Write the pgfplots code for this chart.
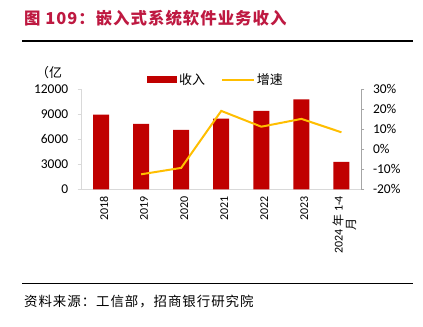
\documentclass[border=0pt]{standalone}
\usepackage{pgfplots}
\pgfplotsset{compat=1.18}
\usepackage{fontspec}
\setmainfont{Carlito}
\newfontfamily\cjk{Noto Sans CJK SC}
\newfontfamily\cjktitle[LetterSpace=6]{Noto Sans CJK SC}
\newfontfamily\cjksrc[LetterSpace=7]{Noto Sans CJK SC}
\definecolor{barred}{RGB}{192,0,0}
\definecolor{lineyel}{RGB}{255,190,0}
\definecolor{titlered}{RGB}{190,25,65}
\definecolor{axgray}{RGB}{217,217,217}
\definecolor{axgray2}{RGB}{166,166,166}
\begin{document}
\begin{tikzpicture}
\path[use as bounding box] (0bp,0bp) rectangle (423bp,327bp);
\node[anchor=west, text=titlered, font=\cjktitle\bfseries\fontsize{16.5}{16.5}\selectfont, inner sep=0] at (24bp,308.3bp) {图 109：嵌入式系统软件业务收入};
\draw[line width=1.2bp] (22bp,286bp) -- (413bp,286bp);
\draw[line width=1.2bp] (22bp,43.7bp) -- (413bp,43.7bp);
\node[anchor=west, font=\cjksrc\fontsize{13.5}{13.5}\selectfont, inner sep=0] at (24bp,25.3bp) {资料来源：工信部，招商银行研究院};
\node[anchor=west, font=\cjk\fontsize{13}{13}\selectfont, inner sep=0] at (36bp,254bp) {（亿};
\begin{axis}[
  at={(81bp,137.7bp)}, anchor=south west, scale only axis,
  width=280.5bp, height=100bp,
  xmin=-0.5, xmax=6.5, ymin=0, ymax=12000,
  axis y line*=left, axis x line*=bottom,
  axis line style={axgray, line width=0.8bp},
  ytick={0,3000,6000,9000,12000},
  scaled y ticks=false,
  /pgf/number format/.cd, set thousands separator={}, assume math mode=true, /pgfplots/.cd,
  yticklabel style={font=\fontsize{13.5}{13.5}\selectfont, text=black, xshift=-6bp},
  ytick style={axgray, line width=0.8bp},
  tick align=outside, major tick length=3.3bp,
  xtick={0,...,6}, xtick style={draw=none},
  xticklabels={2018,2019,2020,2021,2022,2023,{2024 {\cjk 年} 1-4\\{\cjk 月}}},
  xticklabel style={rotate=90, anchor=east, align=center, font=\fontsize{12}{13}\selectfont, yshift=-3bp},
  legend columns=2,
  legend style={draw=none, fill=none, at={(0.235,1.097)}, anchor=west, inner sep=0pt,
    font=\cjk\fontsize{13}{13}\selectfont, /tikz/every even column/.append style={column sep=14bp}},
  clip=false,
]
\addplot[ybar, bar width=16bp, bar shift=0pt, fill=barred, draw=none,
  legend image code/.code={\fill[barred] (0bp,-3.3bp) rectangle (30bp,3.3bp);}]
  coordinates {(0,8960) (1,7840) (2,7120) (3,8470) (4,9400) (5,10800) (6,3280)};
\addlegendentry{收入}
\addlegendimage{lineyel, line width=2bp, legend image code/.code={\draw[lineyel, line width=2bp] (0bp,0bp) -- (32bp,0bp);}}
\addlegendentry{增速}
\end{axis}
\begin{axis}[
  at={(81bp,137.7bp)}, anchor=south west, scale only axis,
  width=280.5bp, height=100bp,
  xmin=-0.5, xmax=6.5, ymin=-20, ymax=30,
  axis y line*=right, axis x line=none,
  axis line style={axgray2, line width=0.8bp},
  ytick={-20,-10,0,10,20,30},
  yticklabel={\pgfmathprintnumber{\tick}\%},
  /pgf/number format/assume math mode=true,
  yticklabel style={font=\fontsize{13.5}{13.5}\selectfont, text=black, xshift=5bp},
  ytick style={axgray2, line width=0.8bp},
  tick align=outside, major tick length=3bp,
]
\addplot[lineyel, line width=2bp] coordinates {(1,-12.5) (2,-9.3) (3,19.2) (4,11.3) (5,15.2) (6,8.5)};
\end{axis}
\end{tikzpicture}
\end{document}
